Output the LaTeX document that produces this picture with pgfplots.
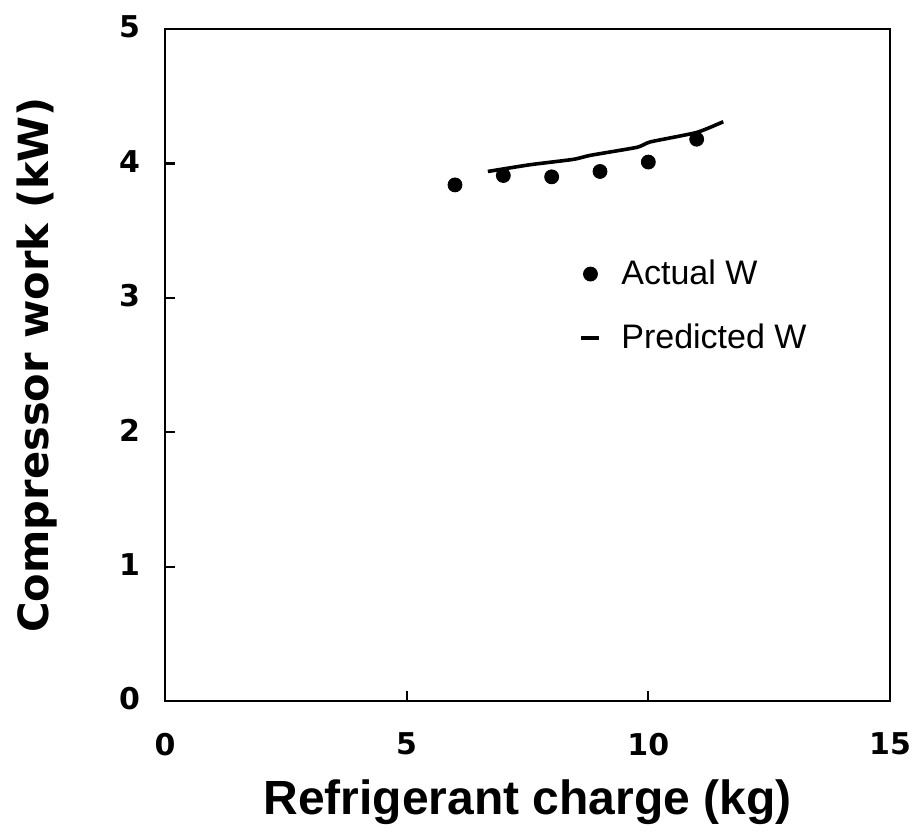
\documentclass[border=0pt]{standalone}
\usepackage{pgfplots}
\pgfplotsset{compat=1.18}
\usepackage{fontspec}
\setmainfont{Liberation Sans}
\newfontfamily\tickfont{DejaVu Sans}
\begin{document}
\begin{tikzpicture}
\begin{axis}[
  scale only axis,
  width=362.5pt, height=336pt,
  xmin=0, xmax=15, ymin=0, ymax=5,
  xtick={0,5,10,15}, ytick={0,1,2,3,4,5},
  xtick align=inside, ytick align=inside,
  xtick pos=left, ytick pos=left,
  major tick length=5pt,
  axis line style={line width=1.25pt},
  major tick style={draw=black, line width=1.1pt},
  tick label style={font=\tickfont\bfseries\fontsize{15}{17}\selectfont},
  /pgf/number format/assume math mode=true,
  xticklabel style={yshift=-12.5pt},
  yticklabel style={xshift=-9pt, yshift=1pt},
  xlabel={\bfseries Refrigerant charge (kg)},
  ylabel={\tickfont\bfseries Compressor work (kW)},
  xlabel style={font=\fontsize{24}{28}\selectfont, yshift=-5pt},
  ylabel style={font=\fontsize{20.8}{24}\selectfont, yshift=24pt},
  legend style={draw=none, fill=none, at={(0.563,0.588)}, anchor=west,
    font=\fontsize{17}{20}\selectfont, row sep=14pt,
    legend cell align=left,
    /tikz/every odd column/.append style={column sep=8pt}},
]
\addplot[only marks, mark=*, mark size=3.5pt, black]
  coordinates {(6,3.84) (7,3.91) (8,3.90) (9,3.94) (10,4.01) (11,4.18)};
\addlegendentry{Actual W}
\addplot[black, line width=1.8pt, smooth, tension=0.3,
  legend image code/.code={\draw[black, line width=1.9pt] (0.3cm-4.5pt,0pt) -- (0.3cm+4.5pt,0pt);}]
  coordinates {(6.68,3.94) (7.55,3.99) (8.45,4.03) (8.8,4.06) (9.77,4.12) (10.04,4.16) (11.0,4.23) (11.55,4.31)};
\addlegendentry{Predicted W}
\end{axis}
\pgfresetboundingbox
\path[use as bounding box] ([shift={(-82.5pt,-68pt)}]current axis.south west) rectangle ([shift={(13pt,14.5pt)}]current axis.north east);
\end{tikzpicture}
\end{document}
